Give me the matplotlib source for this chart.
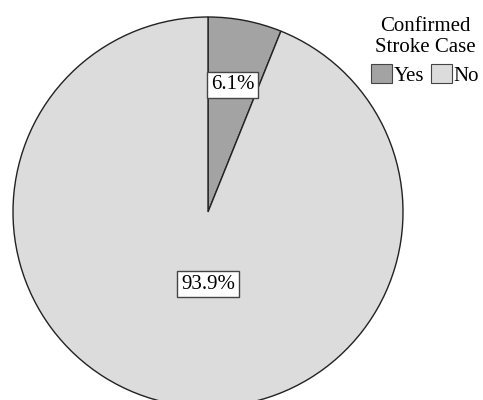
import matplotlib.pyplot as plt
from matplotlib.patches import Patch

# data
labels = ['Yes', 'No']
shares = [6.1, 93.9]
colors = ['#a3a3a3', '#dcdcdc']

plt.rcParams['font.family'] = ['Liberation Serif', 'DejaVu Serif']

fig = plt.figure(figsize=(4.83, 4.0), dpi=100)
ax = fig.add_axes([(208 - 195) / 483, (400 - 212 - 195) / 400, 390 / 483, 390 / 400])

wedges, texts, autotexts = ax.pie(
    shares, colors=colors, startangle=90, counterclock=False, radius=1,
    autopct='%1.1f%%', pctdistance=0.665,
    wedgeprops=dict(edgecolor='#222222', linewidth=1.0),
    textprops=dict(fontsize=15, color='black'))
ax.set_xlim(-1, 1)
ax.set_ylim(-1, 1)
ax.set_aspect('equal')

for t in autotexts:
    t.set_bbox(dict(facecolor='white', edgecolor='#444444', linewidth=1.0, pad=2.5))
# big slice label sits right under the centre
autotexts[1].set_position((0, -0.37))

handles = [Patch(facecolor=c, edgecolor='#444444', linewidth=0.8) for c in colors]
leg = fig.legend(handles, labels, title='Confirmed\nStroke Case', ncol=2,
                 loc='upper right', bbox_to_anchor=(1.018, 0.99), frameon=False,
                 fontsize=15, title_fontsize=15, handlelength=1.0, handleheight=1.0,
                 handletextpad=0.1, columnspacing=0.3, borderpad=0.1, labelspacing=0.2)
leg.get_title().set_multialignment('center')
leg._legend_box.sep = 5

fig.savefig('out.png', dpi=100)
